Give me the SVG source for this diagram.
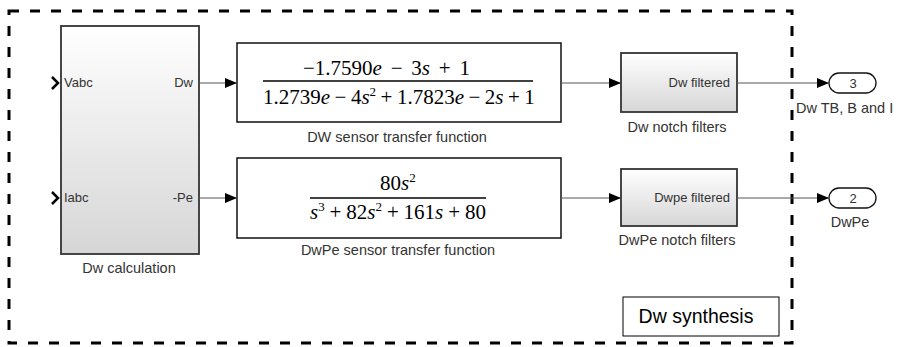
<svg xmlns="http://www.w3.org/2000/svg" width="899" height="347" viewBox="0 0 899 347">
<style>
.lbl{font-family:"Liberation Sans",Arial,sans-serif;font-size:14.5px;fill:#333}
.port{font-family:"Liberation Sans",Arial,sans-serif;font-size:13px;fill:#333}
.math{font-family:"Liberation Serif","Times New Roman",serif;font-size:21px;fill:#000}
.it{font-style:italic}
.sup{font-size:13px}
.blk{stroke:#333;stroke-width:1.8;fill:url(#grad)}
.tf{stroke:#111;stroke-width:1.5;fill:#fff}
.wire{stroke:#555;stroke-width:1;fill:none}
.chev{stroke:#000;stroke-width:2.5;fill:none}
.oval{stroke:#111;stroke-width:1.3;fill:#fff}
</style>
<defs>
<linearGradient id="grad" x1="0" y1="0" x2="0" y2="1">
<stop offset="0" stop-color="#ffffff"/>
<stop offset="1" stop-color="#d6d6d6"/>
</linearGradient>
<marker id="arr" markerUnits="userSpaceOnUse" markerWidth="12" markerHeight="10" refX="12" refY="5" orient="auto">
<path d="M0,0 L12,5 L0,10 z" fill="#000"/>
</marker>
</defs>
<rect width="899" height="347" fill="#fff"/>
<rect id="subsystem" x="9" y="11" width="783" height="332" fill="none" stroke="#000" stroke-width="3" stroke-dasharray="10 11"/>

<g id="dw-calculation">
<rect class="blk" x="61" y="26" width="138" height="228"/>
<polyline class="chev" points="52,77 58,83 52,89"/>
<polyline class="chev" points="52,192 58,198 52,204"/>
<text class="port" x="64" y="87">Vabc</text>
<text class="port" x="64" y="202">Iabc</text>
<text class="port" x="193" y="87" text-anchor="end">Dw</text>
<text class="port" x="193" y="202" text-anchor="end">-Pe</text>
<text class="lbl" x="129" y="273" text-anchor="middle">Dw calculation</text>
</g>

<g id="dw-sensor-tf">
<rect class="tf" x="237" y="43" width="324" height="79"/>
<text class="math" y="75"><tspan x="303">−1.7590</tspan><tspan class="it">e</tspan><tspan x="390.7">−</tspan><tspan x="411.3">3</tspan><tspan class="it">s</tspan><tspan x="438.8">+</tspan><tspan x="459.4">1</tspan></text>
<line x1="263" y1="81" x2="533" y2="81" stroke="#000" stroke-width="1.5"/>
<text class="math" y="104"><tspan x="263">1.2739</tspan><tspan class="it">e</tspan><tspan x="334.6">−</tspan><tspan x="350.9">4</tspan><tspan class="it">s</tspan><tspan class="sup" dy="-8">2</tspan><tspan x="380.6" dy="8">+</tspan><tspan x="396.9">1.7823</tspan><tspan class="it">e</tspan><tspan x="468.5">−</tspan><tspan x="484.8">2</tspan><tspan class="it">s</tspan><tspan x="508">+</tspan><tspan x="524.3">1</tspan></text>
<text class="lbl" x="397" y="142" text-anchor="middle">DW sensor transfer function</text>
</g>

<g id="dwpe-sensor-tf">
<rect class="tf" x="237" y="158" width="324" height="80"/>
<text class="math" y="190"><tspan x="380">80</tspan><tspan class="it">s</tspan><tspan class="sup" dy="-8">2</tspan></text>
<line x1="310" y1="198" x2="486" y2="198" stroke="#000" stroke-width="1.5"/>
<text class="math" y="219"><tspan x="310" class="it">s</tspan><tspan class="sup" dy="-8">3</tspan><tspan x="329.6" dy="8">+</tspan><tspan x="346.3">82</tspan><tspan class="it">s</tspan><tspan class="sup" dy="-8">2</tspan><tspan x="386.9" dy="8">+</tspan><tspan x="403.6">161</tspan><tspan class="it">s</tspan><tspan x="448.2">+</tspan><tspan x="464.9">80</tspan></text>
<text class="lbl" x="398" y="255" text-anchor="middle">DwPe sensor transfer function</text>
</g>

<g id="dw-notch">
<rect class="blk" x="621" y="53" width="116" height="59"/>
<text class="port" x="730" y="87" text-anchor="end">Dw filtered</text>
<text class="lbl" x="677" y="132" text-anchor="middle">Dw notch filters</text>
</g>

<g id="dwpe-notch">
<rect class="blk" x="621" y="169" width="116" height="57"/>
<text class="port" x="730" y="202" text-anchor="end">Dwpe filtered</text>
<text class="lbl" x="677" y="245" text-anchor="middle">DwPe notch filters</text>
</g>

<g id="out3">
<rect class="oval" x="829" y="73" width="47" height="20" rx="10"/>
<text class="port" x="853" y="88" text-anchor="middle">3</text>
<text class="lbl" x="796" y="113">Dw TB, B and I</text>
</g>

<g id="out2">
<rect class="oval" x="829" y="188" width="47" height="20" rx="10"/>
<text class="port" x="853" y="203" text-anchor="middle">2</text>
<text class="lbl" x="850" y="227" text-anchor="middle">DwPe</text>
</g>

<g id="dw-synthesis">
<rect x="623" y="297" width="156" height="39" fill="#fff" stroke="#000" stroke-width="1"/>
<text x="696" y="323" text-anchor="middle" font-family="Liberation Sans, Arial, sans-serif" font-size="19.5" fill="#000">Dw synthesis</text>
</g>

<g id="connectors">
<line class="wire" x1="199" y1="83" x2="237" y2="83" marker-end="url(#arr)"/>
<line class="wire" x1="199" y1="198" x2="237" y2="198" marker-end="url(#arr)"/>
<line class="wire" x1="561" y1="83" x2="621" y2="83" marker-end="url(#arr)"/>
<line class="wire" x1="561" y1="198" x2="621" y2="198" marker-end="url(#arr)"/>
<line class="wire" x1="737" y1="83" x2="829" y2="83" marker-end="url(#arr)"/>
<line class="wire" x1="737" y1="198" x2="829" y2="198" marker-end="url(#arr)"/>
</g>
</svg>
